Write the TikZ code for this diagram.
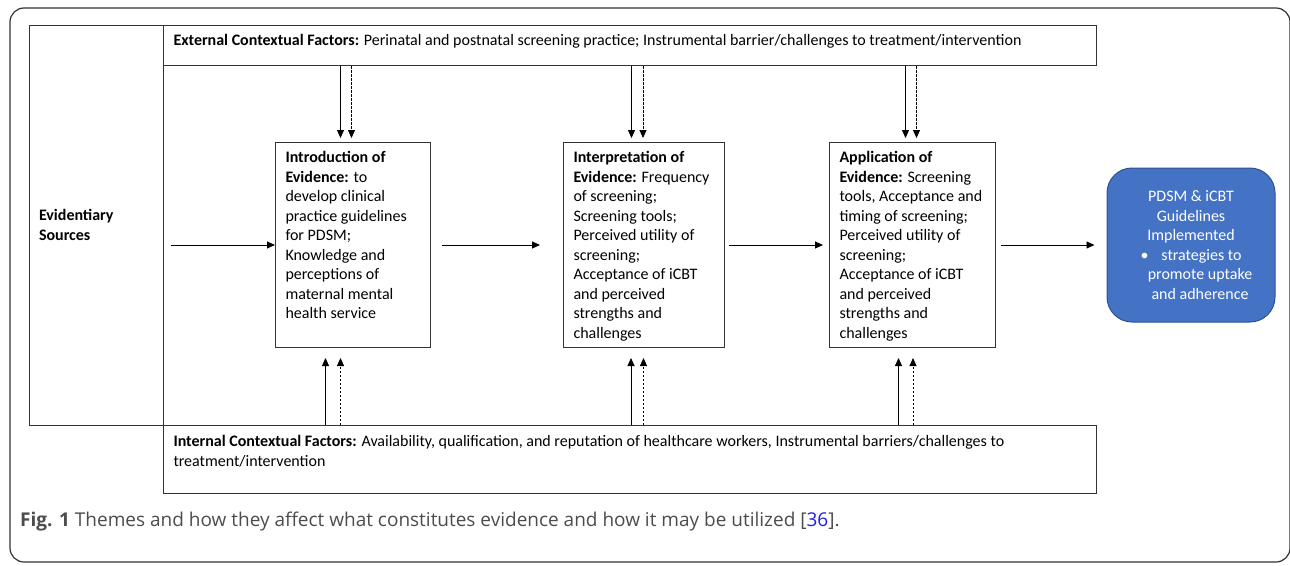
\documentclass[tikz,border=0pt]{standalone}
\usepackage{fontspec}
\setmainfont{Carlito}
\newfontfamily\capfont{Open Sans}
\usetikzlibrary{arrows.meta,positioning}

\definecolor{implblue}{RGB}{68,114,196}
\definecolor{impledge}{RGB}{47,82,143}
\definecolor{citeblue}{RGB}{30,30,235}
\newcommand{\evtext}[2]{\parbox[c][187pt][t]{#1}{\raggedright #2}}

\begin{document}
\begin{tikzpicture}[x=1pt, y=1pt,
	every node/.style={font=\fontsize{16}{19.5}\selectfont, inner sep=0pt},
	frame/.style={draw=black!80, line width=1pt},
	evbox/.style={frame, inner xsep=10pt, inner ysep=9pt, anchor=north west},
	impl/.style={fill=implblue, draw=impledge, line width=1pt, rounded corners=25pt, minimum width=168pt, minimum height=154pt, text=white, align=center},
	arr/.style={-{Triangle[length=8pt,width=7pt]}, line width=0.9pt},
	darr/.style={arr, dash pattern=on 2.5pt off 1.5pt}]
	\useasboundingbox (0,0) rectangle (1290,-565);
	% outer frame
	\draw[black!80, line width=1.2pt, rounded corners=14pt] (10,-8) rectangle (1290,-562);
	% context boxes
	\node[frame, minimum width=134pt, minimum height=400pt, text width=114pt, align=left, inner xsep=10pt] (evsrc) at (96,-225) {\textbf{Evidentiary}\\\textbf{Sources}};
	\node[frame, anchor=north west, inner xsep=10pt, inner ysep=9pt] (ext) at (163,-25) {\parbox[c][22pt][t]{913pt}{\raggedright\textbf{External Contextual Factors:} Perinatal and postnatal screening practice; Instrumental barrier/challenges to treatment/intervention}};
	\node[frame, anchor=north west, inner xsep=10pt, inner ysep=10pt] (int) at (163,-425) {\parbox[c][48pt][t]{913pt}{\raggedright\textbf{Internal Contextual Factors:} Availability, qualification, and reputation of healthcare workers, Instrumental barriers/challenges to\\treatment/intervention}};
	% evidence boxes
	\node[evbox] (intro) at (275,-142) {\evtext{135pt}{\textbf{Introduction of}\\\textbf{Evidence:} to\\develop clinical\\practice guidelines\\for PDSM;\\Knowledge and\\perceptions of\\maternal mental\\health service}};
	\node[evbox] (interp) at (563,-142) {\evtext{141pt}{\textbf{Interpretation of}\\\textbf{Evidence:} Frequency\\of screening;\\Screening tools;\\Perceived utility of\\screening;\\Acceptance of iCBT\\and perceived\\strengths and\\challenges}};
	\node[evbox] (app) at (829,-142) {\evtext{146pt}{\textbf{Application of}\\\textbf{Evidence:} Screening\\tools, Acceptance and\\timing of screening;\\Perceived utility of\\screening;\\Acceptance of iCBT\\and perceived\\strengths and\\challenges}};
	\node[impl] (impl) at (1191,-245) {PDSM \& iCBT\\Guidelines\\Implemented\\\textbullet\hspace{13pt}strategies to\\\hspace*{18pt}promote uptake\\\hspace*{18pt}and adherence};
	% main flow
	\draw[arr, shorten <=7pt] (evsrc.east |- intro.west) -- (intro.west);
	\draw[arr, shorten <=11pt, shorten >=23pt] (intro.east) -- (interp.west);
	\draw[arr, shorten <=4pt, shorten >=6pt] (interp.east) -- (app.west);
	\draw[arr, shorten <=5pt, shorten >=12pt] (app.east) -- (impl.west);
	% context influences
	\foreach \b/\ts/\td/\bs/\bd in {intro/-12.5/-1.5/-27.5/-12.5, interp/-12.5/-1/-13/-0.5, app/-7/4/-14/0.5} {
		\coordinate (ts) at ([xshift=\ts pt]\b.north);
		\coordinate (td) at ([xshift=\td pt]\b.north);
		\coordinate (bs) at ([xshift=\bs pt]\b.south);
		\coordinate (bd) at ([xshift=\bd pt]\b.south);
		\draw[arr, shorten >=4pt] (ts |- ext.south) -- (ts);
		\draw[darr, shorten >=4pt] (td |- ext.south) -- (td);
		\draw[arr, shorten >=10pt] (bs |- int.north) -- (bs);
		\draw[darr, shorten >=10pt] (bd |- int.north) -- (bd);
	}
	% caption
	\node[anchor=base west, font=\capfont\fontsize{19}{22}\selectfont, text=black!70] (caption) at (20,-526) {\textbf{Fig. 1} Themes and how they affect what constitutes evidence and how it may be utilized [\textcolor{citeblue}{36}].};
\end{tikzpicture}
\end{document}
